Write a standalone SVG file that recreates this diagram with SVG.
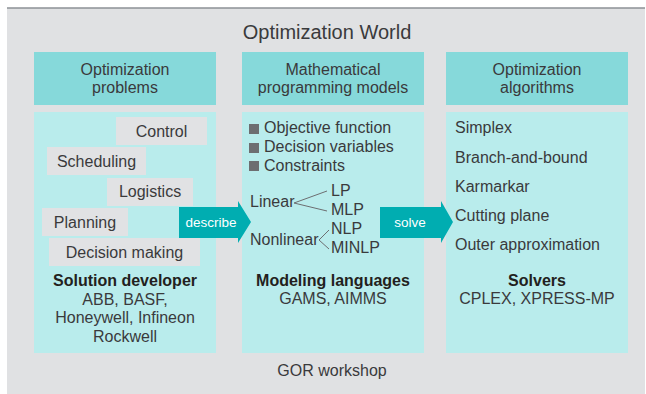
<svg xmlns="http://www.w3.org/2000/svg" width="646" height="394" viewBox="0 0 646 394">
<style>
text{font-family:"Liberation Sans",Arial,sans-serif;fill:#3a3a3c;font-size:16px}
.c{text-anchor:middle}
.b{font-weight:bold;fill:#231f20}
.w{fill:#ffffff;font-size:13.5px;text-anchor:middle}
.hdr{fill:#86d9da}
.body{fill:#b9ecec}
.tag{fill:#e1e2e4}
.bul{fill:#6d6e71}
.arr{fill:#00adb1}
.br{stroke:#6d6e71;stroke-width:1;fill:none}
</style>
<rect x="7" y="8" width="638" height="386" fill="#e0e1e3"/>
<line x1="7" y1="8" x2="645" y2="8" stroke="#8c9196" stroke-width="1.5"/>
<text class="c" x="327" y="39" style="font-size:20px">Optimization World</text>

<g id="problems">
<rect class="hdr" x="34" y="52" width="182" height="53"/>
<text class="c" x="125" y="75">Optimization</text>
<text class="c" x="125" y="93">problems</text>
<rect class="body" x="34" y="112" width="182" height="241"/>
<rect class="tag" x="116" y="117" width="91" height="28"/>
<text class="c" x="161.5" y="137">Control</text>
<rect class="tag" x="47" y="147" width="99" height="28"/>
<text class="c" x="96.5" y="167">Scheduling</text>
<rect class="tag" x="107" y="178" width="86" height="28"/>
<text class="c" x="150" y="197">Logistics</text>
<rect class="tag" x="42" y="208" width="86" height="28"/>
<text class="c" x="85" y="228">Planning</text>
<rect class="tag" x="49" y="238" width="151" height="28"/>
<text class="c" x="124.5" y="258">Decision making</text>
<text class="c b" x="125" y="286">Solution developer</text>
<text class="c" x="125" y="305">ABB, BASF,</text>
<text class="c" x="125" y="323">Honeywell, Infineon</text>
<text class="c" x="125" y="342">Rockwell</text>
</g>

<g id="models">
<rect class="hdr" x="242" y="52" width="182" height="53"/>
<text class="c" x="333" y="75">Mathematical</text>
<text class="c" x="333" y="93">programming models</text>
<rect class="body" x="242" y="112" width="182" height="241"/>
<rect class="bul" x="249" y="124" width="10" height="10"/>
<text x="264" y="133">Objective function</text>
<rect class="bul" x="249" y="143" width="10" height="10"/>
<text x="264" y="152">Decision variables</text>
<rect class="bul" x="249" y="161" width="10" height="10"/>
<text x="264" y="171">Constraints</text>
<text x="250" y="207">Linear</text>
<polyline class="br" points="327,191 294,203 327,211"/>
<text x="331" y="196">LP</text>
<text x="331" y="215">MLP</text>
<text x="250" y="245">Nonlinear</text>
<polyline class="br" points="329,230 319,240 329,249"/>
<text x="331" y="234">NLP</text>
<text x="331" y="253">MINLP</text>
<text class="c b" x="333" y="286">Modeling languages</text>
<text class="c" x="333" y="304">GAMS, AIMMS</text>
</g>

<g id="algorithms">
<rect class="hdr" x="446" y="52" width="182" height="53"/>
<text class="c" x="537" y="75">Optimization</text>
<text class="c" x="537" y="93">algorithms</text>
<rect class="body" x="446" y="112" width="182" height="241"/>
<text x="455" y="133">Simplex</text>
<text x="455" y="163">Branch-and-bound</text>
<text x="455" y="192">Karmarkar</text>
<text x="455" y="221">Cutting plane</text>
<text x="455" y="250">Outer approximation</text>
<text class="c b" x="537" y="286">Solvers</text>
<text class="c" x="537" y="304">CPLEX, XPRESS-MP</text>
</g>

<g id="connectors">
<polygon class="arr" points="179,207 238,207 238,201 251,222 238,243 238,238 179,238"/>
<text class="w" x="211" y="227">describe</text>
<polygon class="arr" points="380,207 441,207 441,201 453,222 441,243 441,238 380,238"/>
<text class="w" x="410" y="227">solve</text>
</g>

<text class="c" x="332" y="376">GOR workshop</text>
</svg>
